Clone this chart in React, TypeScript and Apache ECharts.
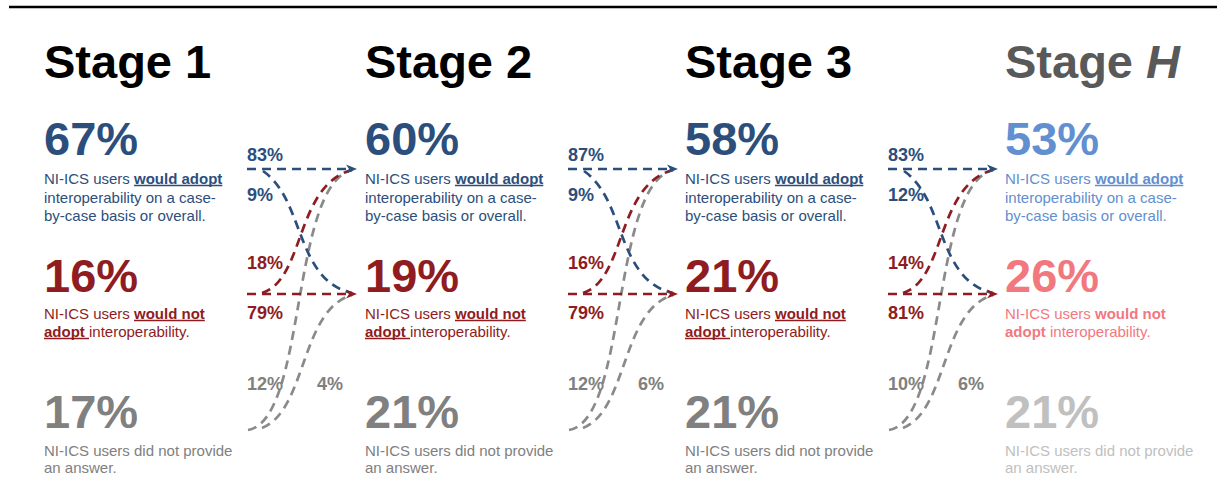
import React, { useEffect, useRef } from "react";
import * as echarts from "echarts";

// ---------- data ----------
const stageNames = ["1", "2", "3", "H"];
const adoptPct = [67, 60, 58, 53];
const notAdoptPct = [16, 19, 21, 26];
const noAnswerPct = [17, 21, 21, 21];
// transitions between consecutive stages (block i: stage i -> stage i+1)
const adoptToAdopt = [83, 87, 83];
const adoptToNot = [9, 9, 12];
const notToAdopt = [18, 16, 14];
const notToNot = [79, 79, 81];
const noneToAdopt = [12, 12, 10];
const noneToNot = [4, 6, 6];

// ---------- style ----------
const FONT = "'Liberation Sans', Arial, sans-serif";
const BLUE = "#2C4E7C";
const RED = "#8E1C21";
const GRAY = "#808080";
const H_BLUE = "#628FD0";
const H_RED = "#F2787F";
const H_GRAY = "#C0C0C0";
const colX = [44, 365, 685, 1005];

function measure(text: string, font: string): number {
  const c = document.createElement("canvas");
  const ctx = c.getContext("2d")!;
  ctx.font = font;
  return ctx.measureText(text).width;
}

function buildElements() {
  const els: any[] = [];
  const txt = (x: number, y: number, text: string, size: number, color: string, bold: boolean, align = "left", rich?: any) => {
    els.push({
      type: "text",
      x,
      y,
      z: 10,
      style: {
        text,
        fill: color,
        font: `${bold ? "bold " : ""}${size}px ${FONT}`,
        align,
        verticalAlign: "middle",
        textAlign: align,
        textVerticalAlign: "middle",
        rich,
      },
    });
  };
  const uline = (x1: number, x2: number, y: number, color: string) => {
    els.push({ type: "line", z: 10, shape: { x1, y1: y, x2, y2: y }, style: { stroke: color, lineWidth: 1.4 } });
  };

  // top rule
  els.push({ type: "line", shape: { x1: 9, y1: 7, x2: 1217, y2: 7 }, style: { stroke: "#000", lineWidth: 2.5 } });

  const smallN = `15px ${FONT}`;
  const smallB = `bold 15px ${FONT}`;

  stageNames.forEach((s, i) => {
    const x = colX[i];
    const isH = s === "H";
    const cB = isH ? H_BLUE : BLUE;
    const cR = isH ? H_RED : RED;
    const cG = isH ? H_GRAY : GRAY;
    const titleColor = isH ? "#595959" : "#000000";
    // title
    txt(x, 61, `{a|Stage }{${isH ? "i" : "a"}|${s}}`, 47, titleColor, true, "left", {
      a: { font: `bold 47px ${FONT}`, fill: titleColor },
      i: { font: `italic bold 47px ${FONT}`, fill: titleColor },
    });
    // big numbers
    txt(x, 138, `${adoptPct[i]}%`, 47, cB, true);
    txt(x, 275, `${notAdoptPct[i]}%`, 47, cR, true);
    txt(x, 411, `${noAnswerPct[i]}%`, 47, cG, true);

    const richFor = (c: string) => ({
      n: { font: smallN, fill: c },
      b: { font: smallB, fill: c },
    });
    // row 1 text
    txt(x, 178, "{n|NI-ICS users }{b|would adopt}", 15, cB, false, "left", richFor(cB));
    txt(x, 197, "interoperability on a case-", 15, cB, false);
    txt(x, 215, "by-case basis or overall.", 15, cB, false);
    const w1 = measure("NI-ICS users ", smallN);
    uline(x + w1, x + w1 + measure("would adopt", smallB), 185.5, cB);
    // row 2 text
    txt(x, 313, "{n|NI-ICS users }{b|would not}", 15, cR, false, "left", richFor(cR));
    txt(x, 331, "{b|adopt }{n|interoperability.}", 15, cR, false, "left", richFor(cR));
    if (!isH) {
      uline(x + w1, x + w1 + measure("would not", smallB), 320.5, cR);
      uline(x, x + measure("adopt ", smallB), 338.5, cR);
    }
    // row 3 text
    txt(x, 450, "NI-ICS users did not provide", 15, cG, false);
    txt(x, 467, "an answer.", 15, cG, false);
  });

  // transition blocks
  const dash = [9, 6];
  const LW = 2.7;
  const curve = (p: number[], color: string) => {
    els.push({
      type: "bezierCurve",
      shape: { x1: p[0], y1: p[1], cpx1: p[2], cpy1: p[3], cpx2: p[4], cpy2: p[5], x2: p[6], y2: p[7] },
      style: { stroke: color, lineWidth: LW, lineDash: dash, fill: "none" },
    });
  };
  const hline = (x1: number, x2: number, y: number, color: string) => {
    els.push({ type: "line", shape: { x1, y1: y, x2, y2: y }, style: { stroke: color, lineWidth: LW, lineDash: dash } });
  };
  const head = (tip: number, y: number, color: string) => {
    els.push({ type: "polygon", z: 5, shape: { points: [[tip, y], [tip - 11, y - 4.5], [tip - 8, y], [tip - 11, y + 4.5]] }, style: { fill: color } });
  };

  for (let i = 0; i < 3; i++) {
    const ox = colX[i];
    const a = ox + 203;
    const b = ox + 313;
    const yT = 169;
    const yM = 294;
    curve([a + 1, 430, a + 60, 420, a + 43, 185, b - 5, yT + 1], "#8A8A8A");
    curve([a + 15, 428, a + 60, 410, a + 53, 310, b - 5, yM + 1], "#8A8A8A");
    curve([a + 15, yM - 1, a + 58, 280, a + 48, 185, b - 5, yT + 1], RED);
    curve([a + 16, yT + 2, a + 58, 200, a + 48, 280, b - 5, yM - 1], BLUE);
    hline(a, b - 5, yT, BLUE);
    hline(a, b - 5, yM, RED);
    head(b, yT, BLUE);
    head(b, yM, RED);

    txt(a, 155, `${adoptToAdopt[i]}%`, 18, BLUE, true);
    txt(a, 195, `${adoptToNot[i]}%`, 18, BLUE, true);
    txt(a, 263, `${notToAdopt[i]}%`, 18, RED, true);
    txt(a, 313, `${notToNot[i]}%`, 18, RED, true);
    txt(ox + 239, 384, `${noneToAdopt[i]}%`, 18, GRAY, true, "right");
    txt(ox + 273, 384, `${noneToNot[i]}%`, 18, GRAY, true, "left");
  }
  return els;
}

export default function App() {
  const ref = useRef<HTMLDivElement>(null);
  useEffect(() => {
    if (!ref.current) return;
    const chart = echarts.init(ref.current, null, { renderer: "svg" });
    chart.setOption({
      animation: false,
      backgroundColor: "#ffffff",
      graphic: { elements: buildElements() },
    });
    return () => chart.dispose();
  }, []);
  return (
    <div
      ref={ref}
      style={{ position: "fixed", left: 0, top: 0, width: 1217, height: 498, background: "#fff" }}
    />
  );
}
